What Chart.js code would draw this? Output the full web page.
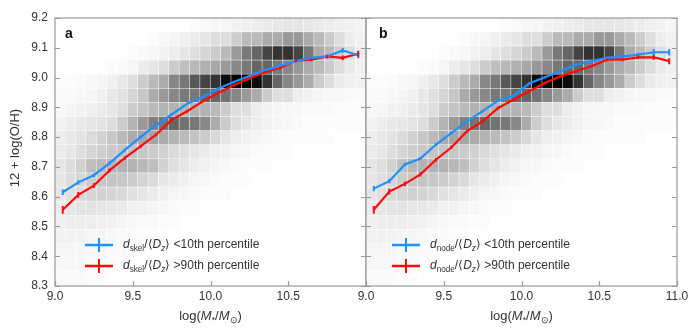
<!DOCTYPE html>
<html>
<head>
<meta charset="utf-8">
<script src="https://cdn.jsdelivr.net/npm/chart.js@4.4.1/dist/chart.umd.min.js"></script>
<style>
  body { margin: 0; background: #fff; }
  #wrap { position: relative; width: 700px; height: 330px; }
  canvas { position: absolute; top: 0; }
  #panelA { left: 0; }
  #panelB { left: 336px; }
</style>
</head>
<body>
<div id="wrap">
  <canvas id="panelA" width="380" height="330"></canvas>
  <canvas id="panelB" width="364" height="330"></canvas>
</div>
<script>
// stellar mass bin centres, log(M*/Msun)
const massBins = [9.05, 9.15, 9.25, 9.35, 9.45, 9.55, 9.65, 9.75, 9.85, 9.95,
                  10.05, 10.15, 10.25, 10.35, 10.45, 10.55, 10.65, 10.75, 10.85, 10.95];

// median 12+log(O/H) per mass bin, distance to skeleton
const skelNear    = [8.615, 8.648, 8.672, 8.712, 8.757, 8.800, 8.840, 8.876, 8.912, 8.935,
                     8.963, 8.985, 9.005, 9.025, 9.040, 9.055, 9.066, 9.071, 9.091, 9.075];
const skelNearErr = [0.009, 0.007, 0.006, 0.006, 0.005, 0.005, 0.005, 0.004, 0.004, 0.004,
                     0.004, 0.004, 0.004, 0.004, 0.004, 0.005, 0.005, 0.006, 0.008, 0.010];
const skelFar     = [8.556, 8.606, 8.637, 8.688, 8.730, 8.769, 8.808, 8.858, 8.887, 8.920,
                     8.948, 8.974, 8.997, 9.018, 9.033, 9.057, 9.060, 9.071, 9.066, 9.080];
const skelFarErr  = [0.013, 0.010, 0.008, 0.007, 0.006, 0.006, 0.005, 0.005, 0.005, 0.004,
                     0.004, 0.004, 0.004, 0.004, 0.004, 0.005, 0.005, 0.006, 0.008, 0.010];

// same, distance to nodes
const nodeNear    = [8.627, 8.652, 8.708, 8.728, 8.775, 8.814, 8.853, 8.887, 8.923, 8.939,
                     8.980, 9.001, 9.021, 9.043, 9.055, 9.066, 9.071, 9.077, 9.085, 9.085];
const nodeNearErr = [0.009, 0.007, 0.006, 0.005, 0.005, 0.005, 0.004, 0.004, 0.004, 0.004,
                     0.004, 0.004, 0.004, 0.004, 0.004, 0.004, 0.005, 0.006, 0.010, 0.011];
const nodeFar     = [8.556, 8.617, 8.643, 8.675, 8.724, 8.766, 8.820, 8.853, 8.898, 8.926,
                     8.954, 8.982, 9.004, 9.021, 9.038, 9.060, 9.060, 9.068, 9.068, 9.055];
const nodeFarErr  = [0.013, 0.010, 0.008, 0.007, 0.006, 0.006, 0.005, 0.005, 0.005, 0.004,
                     0.004, 0.004, 0.004, 0.004, 0.004, 0.005, 0.005, 0.006, 0.008, 0.010];

const massTicks = [9.0, 9.5, 10.0, 10.5, 11.0];
const ohTicks = [8.3, 8.4, 8.5, 8.6, 8.7, 8.8, 8.9, 9.0, 9.1, 9.2];

// 2D histogram of the full sample: 30 mass bins x 19 O/H bins,
// rows listed from the highest O/H bin down, values are darkness 0..10
const histMassRange = [9.0, 11.0];
const histOhRange = [8.3, 9.2];
const histDensity = [
  [0,0,0,0,0,0,0,0,0,0, 0,0,0,0.1,0.2,0.3,0.4,0.5,0.6,0.7, 0.8,0.9,1,1,0.9,0.8,0.7,0.6,0.5,0.4],
  [0,0,0,0,0,0,0,0,0,0.1, 0.3,0.4,0.6,0.8,1,1.3,1.3,2,2.7,2.7, 3.3,3.3,4,4,3.3,2.7,2,1.3,0.7,0.5],
  [0,0,0,0,0,0,0,0.1,0.2,0.3, 0.5,0.7,1,1.3,1.6,2,2.7,4,5.3,6, 7.3,8,8,7.3,5.3,3.3,2.7,2,1.3,0.7],
  [0,0,0,0,0,0.1,0.2,0.4,0.7,1, 1.3,2,2.5,2.8,3.1,3.4,4,4.7,5.3,6, 6,5.3,4.7,4,3.3,2.7,2,1.3,0.8,0.6],
  [0.1,0.1,0.2,0.3,0.4,0.6,0.9,1.3,2,2.7, 3.3,4.7,5.3,6.5,7.3,8,9.5,10,10,9.5, 8,6,4.7,4,3.3,2,1.3,0.8,0.6,0.5],
  [0.2,0.2,0.3,0.4,0.6,0.9,1.2,1.6,2.2,3.3, 4,4.7,5.3,5.3,6,6,5.5,4.7,4,3.3, 2,1.3,1.3,0.7,0.5,0.4,0.3,0.3,0.2,0.2],
  [0.3,0.4,0.5,0.6,0.8,1,1.3,2,2.3,2.7, 3,3,3,3,3,2.7,2,1.3,1.3,0.7, 0.5,0.4,0.3,0.3,0.2,0.2,0.2,0.1,0.1,0.1],
  [0.5,0.7,0.9,1,1.1,1.3,2,3,4,5, 5.5,6,5.5,5.3,4.7,3.3,2,1.3,1,0.7, 0.5,0.4,0.3,0.2,0.1,0.1,0.1,0.1,0.1,0.1],
  [0.7,0.9,1.1,1.4,1.8,2.2,2.7,3.3,3.5,3.5, 3.3,3,2.7,2.3,2,1.5,1,0.7,0.5,0.4, 0.3,0.2,0.1,0.1,0.1,0.1,0.1,0,0,0],
  [0.8,1,1.3,1.6,1.9,2.1,2.3,2.3,2.2,2, 1.8,1.5,1.2,1,0.8,0.6,0.5,0.4,0.3,0.2, 0.1,0.1,0.1,0,0,0,0,0,0,0],
  [1,1.3,1.8,2.5,2.8,3,3,3,2.8,2.5, 1.8,1.3,1,0.7,0.5,0.4,0.3,0.2,0.1,0.1, 0.1,0,0,0,0,0,0,0,0,0],
  [1,1.3,1.6,2,2.2,2.3,2.2,2,1.7,1.4, 1,0.8,0.6,0.4,0.3,0.2,0.1,0.1,0.1,0, 0,0,0,0,0,0,0,0,0,0],
  [1,1.2,1.5,1.7,1.8,1.7,1.5,1.2,1,0.8, 0.6,0.4,0.3,0.2,0.1,0.1,0.1,0,0,0, 0,0,0,0,0,0,0,0,0,0],
  [0.8,1,1.1,1.1,1,0.9,0.8,0.6,0.5,0.4, 0.3,0.2,0.1,0.1,0,0,0,0,0,0, 0,0,0,0,0,0,0,0,0,0],
  [0.6,0.7,0.7,0.7,0.6,0.5,0.4,0.3,0.2,0.2, 0.1,0.1,0,0,0,0,0,0,0,0, 0,0,0,0,0,0,0,0,0,0],
  [0.5,0.5,0.5,0.4,0.4,0.3,0.2,0.2,0.1,0.1, 0,0,0,0,0,0,0,0,0,0, 0,0,0,0,0,0,0,0,0,0],
  [0.4,0.4,0.4,0.3,0.3,0.2,0.2,0.1,0.1,0, 0,0,0,0,0,0,0,0,0,0, 0,0,0,0,0,0,0,0,0,0],
  [0.3,0.3,0.3,0.2,0.2,0.1,0.1,0,0,0, 0,0,0,0,0,0,0,0,0,0, 0,0,0,0,0,0,0,0,0,0],
  [0.2,0.2,0.2,0.1,0.1,0,0,0,0,0, 0,0,0,0,0,0,0,0,0,0, 0,0,0,0,0,0,0,0,0,0]
];

const BLUE = 'rgb(30,144,255)';
const RED = 'rgb(255,10,10)';
const TEXT = '#333';
const FAMILY = '"Liberation Sans", Arial, Helvetica, sans-serif';

// draws a run of text pieces: {t, it (italic), sub (subscript)}
function richWidth(ctx, parts, size) {
  let w = 0;
  parts.forEach(p => {
    const fs = p.sub ? size * 0.68 : size;
    ctx.font = (p.it ? 'italic ' : '') + fs + 'px ' + FAMILY;
    w += ctx.measureText(p.t).width;
  });
  return w;
}
function drawRich(ctx, parts, x, y, size, center) {
  if (center) x -= richWidth(ctx, parts, size) / 2;
  ctx.textBaseline = 'middle';
  ctx.textAlign = 'left';
  ctx.fillStyle = TEXT;
  parts.forEach(p => {
    const fs = p.sub ? size * 0.68 : size;
    ctx.font = (p.it ? 'italic ' : '') + fs + 'px ' + FAMILY;
    ctx.fillText(p.t, x, p.sub ? y + size * 0.32 : y);
    x += ctx.measureText(p.t).width;
  });
}

const massTitle = [{t: 'log('}, {t: 'M', it: true}, {t: '*', sub: true}, {t: '/'},
                   {t: 'M', it: true}, {t: '\u2299', sub: true}, {t: ')'}];

function legendParts(sub, rest) {
  return [{t: 'd', it: true}, {t: sub, sub: true}, {t: '/\u27E8'}, {t: 'D', it: true},
          {t: 'z', it: true, sub: true}, {t: '\u27E9 ' + rest}];
}

function decorPlugin(p) {
  return {
    id: 'decor',
    beforeDatasetsDraw(chart) {
      const {ctx, chartArea: a, scales: {x, y}} = chart;
      const nRows = histDensity.length;
      const nCols = histDensity[0].length;
      const dm = (histMassRange[1] - histMassRange[0]) / nCols;
      const dz = (histOhRange[1] - histOhRange[0]) / nRows;
      ctx.save();
      ctx.beginPath();
      ctx.rect(a.left, a.top, a.width, a.height);
      ctx.clip();
      histDensity.forEach((row, r) => {
        const y0 = y.getPixelForValue(histOhRange[1] - r * dz);
        const y1 = y.getPixelForValue(histOhRange[1] - (r + 1) * dz);
        row.forEach((d, c) => {
          if (!d) return;
          const x0 = x.getPixelForValue(histMassRange[0] + c * dm);
          const x1 = x.getPixelForValue(histMassRange[0] + (c + 1) * dm);
          const g = Math.round(255 - d * 25.5);
          ctx.fillStyle = 'rgb(' + g + ',' + g + ',' + g + ')';
          ctx.fillRect(x0, y0, x1 - x0 - 0.5, y1 - y0 - 0.5);
        });
      });
      ctx.restore();
    },
    afterDatasetsDraw(chart) {
      const {ctx, chartArea: a, scales: {x, y}} = chart;
      ctx.save();

      // error bars
      chart.data.datasets.forEach((ds, i) => {
        const meta = chart.getDatasetMeta(i);
        ctx.strokeStyle = ds.borderColor;
        ctx.lineWidth = 2;
        ctx.beginPath();
        ds.errors.forEach((e, k) => {
          const px = meta.data[k].x;
          const v = ds.data[k].y;
          ctx.moveTo(px, y.getPixelForValue(v + e));
          ctx.lineTo(px, y.getPixelForValue(v - e));
        });
        ctx.stroke();
      });

      // frame and inward ticks
      ctx.strokeStyle = '#999';
      ctx.lineWidth = 1.2;
      ctx.strokeRect(a.left, a.top, a.width, a.height);
      ctx.beginPath();
      ohTicks.forEach(v => {
        const py = Math.round(y.getPixelForValue(v)) + 0.5;
        ctx.moveTo(a.left, py); ctx.lineTo(a.left + 5, py);
        ctx.moveTo(a.right, py); ctx.lineTo(a.right - 5, py);
      });
      massTicks.forEach(v => {
        const px = Math.round(x.getPixelForValue(v)) + 0.5;
        ctx.moveTo(px, a.bottom); ctx.lineTo(px, a.bottom - 5);
      });
      ctx.stroke();

      // panel letter
      ctx.fillStyle = '#111';
      ctx.font = 'bold 14px ' + FAMILY;
      ctx.textBaseline = 'alphabetic';
      ctx.textAlign = 'left';
      ctx.fillText(p.letter, a.left + p.letterDx, a.top + 20);

      // legend
      p.legend.forEach((item, i) => {
        const ly = a.top + 227 + i * 21;
        const lx = a.left + p.legendDx;
        ctx.strokeStyle = item.color;
        ctx.lineWidth = 2.5;
        ctx.beginPath();
        ctx.moveTo(lx, ly); ctx.lineTo(lx + 28, ly);
        ctx.stroke();
        ctx.lineWidth = 2;
        ctx.beginPath();
        ctx.moveTo(lx + 14, ly - 7); ctx.lineTo(lx + 14, ly + 7);
        ctx.stroke();
        drawRich(ctx, item.parts, lx + 38, ly, 12, false);
      });

      // axis titles
      drawRich(ctx, massTitle, (a.left + a.right) / 2, 316, 13, true);
      if (p.ohTitle) {
        ctx.translate(15, 148);
        ctx.rotate(-Math.PI / 2);
        ctx.font = '13px ' + FAMILY;
        ctx.fillStyle = TEXT;
        ctx.textAlign = 'center';
        ctx.textBaseline = 'middle';
        ctx.fillText(p.ohTitle, 0, 0);
      }
      ctx.restore();
    }
  };
}

function series(vals, errs, color) {
  return {
    data: massBins.map((m, i) => ({x: m, y: vals[i]})),
    errors: errs,
    borderColor: color,
    borderWidth: 2.2,
    pointRadius: 0,
    tension: 0,
    fill: false
  };
}

function makePanel(id, p) {
  return new Chart(document.getElementById(id), {
    type: 'line',
    data: {
      datasets: [
        series(p.near, p.nearErr, BLUE),
        series(p.far, p.farErr, RED)
      ]
    },
    options: {
      responsive: false,
      animation: false,
      layout: {padding: {top: 18, right: p.padRight, left: 0, bottom: 0}},
      plugins: {legend: {display: false}, tooltip: {enabled: false}},
      scales: {
        x: {
          type: 'linear',
          min: 9.0,
          max: 11.0,
          afterBuildTicks: s => { s.ticks = massTicks.map(v => ({value: v})); },
          afterFit: s => { s.height = 44; },
          grid: {display: false, drawTicks: false},
          border: {display: false},
          ticks: {
            color: TEXT,
            padding: 3,
            maxRotation: 0,
            font: {family: FAMILY, size: 12},
            callback: v => (p.hideLastMass && v === 11) ? '' : v.toFixed(1)
          }
        },
        y: {
          type: 'linear',
          min: 8.3,
          max: 9.2,
          afterBuildTicks: s => { s.ticks = ohTicks.map(v => ({value: v})); },
          afterFit: s => { s.width = p.yWidth; },
          grid: {display: false, drawTicks: false},
          border: {display: false},
          ticks: {
            display: p.showOh,
            color: TEXT,
            padding: 7,
            font: {family: FAMILY, size: 12},
            callback: v => v.toFixed(1)
          }
        }
      }
    },
    plugins: [decorPlugin(p)]
  });
}

makePanel('panelA', {
  near: skelNear, nearErr: skelNearErr, far: skelFar, farErr: skelFarErr,
  letter: 'a', letterDx: 10, legendDx: 30,
  legend: [
    {color: BLUE, parts: legendParts('skel', '<10th percentile')},
    {color: RED, parts: legendParts('skel', '>90th percentile')}
  ],
  ohTitle: '12 + log(O/H)',
  yWidth: 55, padRight: 14, showOh: true, hideLastMass: true
});

makePanel('panelB', {
  near: nodeNear, nearErr: nodeNearErr, far: nodeFar, farErr: nodeFarErr,
  letter: 'b', letterDx: 13, legendDx: 26,
  legend: [
    {color: BLUE, parts: legendParts('node', '<10th percentile')},
    {color: RED, parts: legendParts('node', '>90th percentile')}
  ],
  ohTitle: null,
  yWidth: 30, padRight: 23, showOh: false, hideLastMass: false
});
</script>
</body>
</html>
